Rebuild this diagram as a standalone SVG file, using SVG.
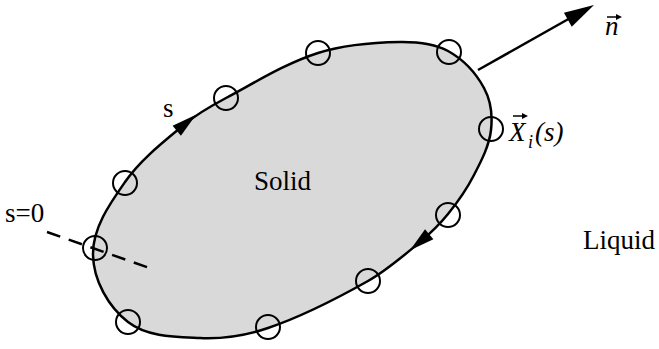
<svg xmlns="http://www.w3.org/2000/svg" width="659" height="349" viewBox="0 0 659 349">
<style>
text{font-family:'Liberation Serif','DejaVu Serif',serif;font-size:27px;fill:#000}
.it{font-style:italic}
.pt{fill:none;stroke:#000;stroke-width:2}
.ah{fill:#000;stroke:none}
</style>
<rect width="659" height="349" fill="#fff"/>
<g id="solid">
<path d="M93,255 C92.4,228.4 109.7,203.8 125,182 C141,159.2 163.6,141.8 185,124 C197.5,113.6 211.7,105.6 226,98 C256.1,81.9 285.5,63.4 318,53 C344.3,44.6 372.4,42.4 400,42 C416.3,41.8 433.7,43.2 448,51 C463.1,59.3 475.8,72.9 484,88 C490.8,100.5 492.6,115.9 491,130 C489.2,145.9 481.3,160.8 474,175 C466.9,188.9 457.8,201.9 448,214 C439.7,224.3 430.1,233.5 420,242 C403.4,255.9 386.9,270.3 368,281 C335.9,299.1 302.8,316.2 268,328 C246.3,335.4 222.9,339 200,338 C175.4,336.9 147.4,337.1 128,322 C108.1,306.6 93.5,280.2 93,255 Z" fill="#d9d9d9" stroke="#000" stroke-width="2.5"/>
<polygon class="ah" points="13,0 -12,-6.5 -12,6.5" transform="translate(186,123) rotate(-39.7)"/>
<polygon class="ah" points="13,0 -12,-6.5 -12,6.5" transform="translate(420,242) rotate(140.1)"/>
<text x="254" y="190">Solid</text>
</g>
<g id="markers">
<circle class="pt" cx="95" cy="248" r="12"/>
<circle class="pt" cx="125" cy="183" r="12"/>
<circle class="pt" cx="226" cy="98" r="12"/>
<circle class="pt" cx="318" cy="53" r="12"/>
<circle class="pt" cx="449" cy="52" r="12"/>
<circle class="pt" cx="491" cy="129" r="12"/>
<circle class="pt" cx="448" cy="215" r="12"/>
<circle class="pt" cx="368" cy="281" r="12"/>
<circle class="pt" cx="268" cy="327" r="12"/>
<circle class="pt" cx="128" cy="322" r="12"/>
</g>
<g id="connectors">
<line x1="47" y1="232" x2="155" y2="270" stroke="#000" stroke-width="2.5" stroke-dasharray="14 9"/>
<line x1="478" y1="70" x2="572" y2="17" stroke="#000" stroke-width="2.5"/>
<polygon class="ah" points="0,0 -30,-8 -30,8" transform="translate(594,5) rotate(-29.3)"/>
</g>
<g id="labels">
<text x="5" y="222">s=0</text>
<text x="163" y="117">s</text>
<text x="583" y="249">Liquid</text>
<g id="normal-label">
<text class="it" x="605" y="35">n</text>
<line x1="607" y1="17" x2="618" y2="17" stroke="#000" stroke-width="1.5"/>
<polygon class="ah" points="622,17 616,14 616,20"/>
</g>
<g id="position-label">
<text class="it" x="509" y="141">X</text>
<text class="it" x="528" y="148" style="font-size:18px">i</text>
<text class="it" x="535" y="141">(s)</text>
<line x1="513" y1="116" x2="524" y2="116" stroke="#000" stroke-width="1.5"/>
<polygon class="ah" points="528,116 522,113 522,119"/>
</g>
</g>
</svg>
